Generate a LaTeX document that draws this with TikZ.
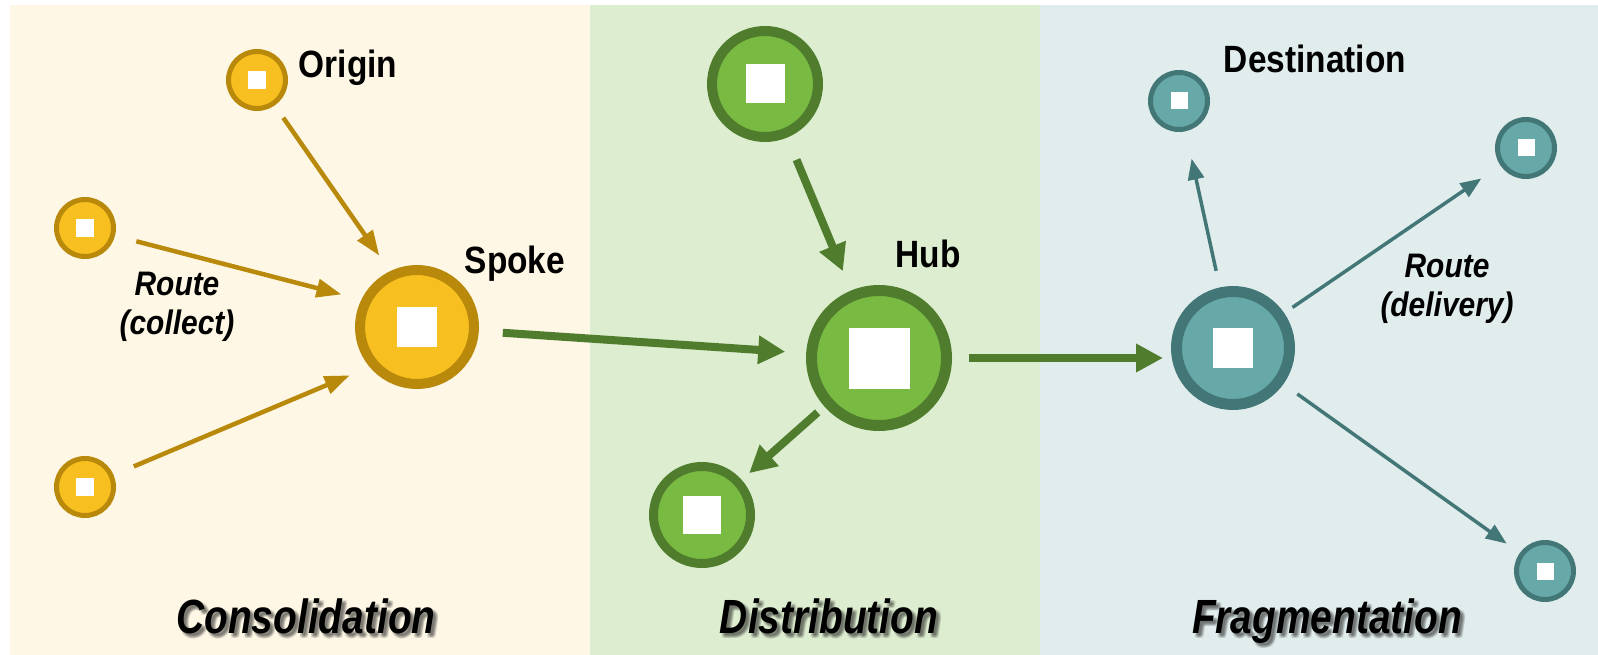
\documentclass[tikz,border=0pt]{standalone}
\usepackage{fontspec}
\setmainfont{Liberation Sans}
\newfontfamily\labelfont[FakeStretch=0.88]{Liberation Sans}
\newfontfamily\titlefont[FakeStretch=0.81]{Liberation Sans}
\usetikzlibrary{arrows.meta}

\definecolor{creambg}{HTML}{FEF7E5}
\definecolor{greenbg}{HTML}{DDEDCF}
\definecolor{tealbg}{HTML}{E1EDED}
\definecolor{goldfill}{HTML}{F7BF1F}
\definecolor{golddark}{HTML}{B8890A}
\definecolor{greenfill}{HTML}{79BA43}
\definecolor{greendark}{HTML}{507D2D}
\definecolor{tealfill}{HTML}{67A8A8}
\definecolor{tealdark}{HTML}{437777}

\newcommand{\whitesq}[1]{\textcolor{white}{\rule{#1pt}{#1pt}}}

\tikzset{
  site/.style={circle,inner sep=0pt},
  gold site/.style={site,fill=goldfill,draw=golddark},
  green site/.style={site,fill=greenfill,draw=greendark},
  teal site/.style={site,fill=tealfill,draw=tealdark},
  gold arrow/.style={draw=golddark,line width=4.5pt,-{Triangle[length=25pt,width=18pt]}},
  green arrow/.style={draw=greendark,line width=8pt,-{Triangle[length=27pt,width=27pt]}},
  teal arrow/.style={draw=tealdark,line width=3.5pt,-{Triangle[length=21pt,width=16pt]}},
  label text/.style={font=\labelfont\bfseries\fontsize{38}{40}\selectfont,inner sep=0pt,anchor=base},
  route text/.style={font=\labelfont\bfseries\itshape\fontsize{34}{39}\selectfont,inner sep=0pt,align=center},
  title text/.style={font=\titlefont\bfseries\itshape\fontsize{48}{50}\selectfont,inner sep=0pt,anchor=base}
}

\begin{document}
\begin{tikzpicture}[x=1pt,y=-1pt]
   \useasboundingbox (0,0) rectangle (1598,655);
   \fill[white] (0,0) rectangle (1598,655);
   \fill[creambg] (10,5) rectangle (590,655);
   \fill[greenbg] (590,5) rectangle (1040,655);
   \fill[tealbg] (1040,5) rectangle (1598,655);

   % consolidation
   \node[gold site,line width=5pt,minimum size=57pt] (o1) at (257,80) {\whitesq{18}};
   \node[gold site,line width=5pt,minimum size=57pt] (o2) at (85,228) {\whitesq{18}};
   \node[gold site,line width=5pt,minimum size=57pt] (o3) at (85,487) {\whitesq{18}};
   \node[gold site,line width=10pt,minimum size=114pt] (spoke) at (417,327) {\whitesq{40}};

   % distribution
   \node[green site,line width=10pt,minimum size=106pt] (g1) at (765,84) {\whitesq{39}};
   \node[green site,line width=11pt,minimum size=135pt] (hub) at (879,358) {\whitesq{61}};
   \node[green site,line width=9pt,minimum size=97pt] (g2) at (702,515) {\whitesq{38}};

   % fragmentation
   \node[teal site,line width=11pt,minimum size=113pt] (frag) at (1233,348) {\whitesq{40}};
   \node[teal site,line width=5pt,minimum size=57pt] (d1) at (1179,101) {\whitesq{17}};
   \node[teal site,line width=5pt,minimum size=57pt] (d2) at (1526,148) {\whitesq{17}};
   \node[teal site,line width=5pt,minimum size=57pt] (d3) at (1545,571) {\whitesq{17}};

   \path (o1) edge[gold arrow,shorten <=15pt,shorten >=87pt] ([xshift=12pt]spoke.center);
   \path (o2) edge[gold arrow,shorten <=22pt,shorten >=78pt] ([yshift=13pt]spoke.center);
   \path (o3) edge[gold arrow,shorten <=22pt,shorten >=73pt] ([yshift=-20pt]spoke.center);
   \path (spoke) edge[green arrow,shorten <=24pt,shorten >=21pt] (hub);
   \path (g1) edge[green arrow,shorten <=24pt,shorten >=21pt] (hub);
   \path (hub) edge[green arrow,shorten <=9pt,shorten >=10pt] (g2);
   \path (hub) edge[green arrow,shorten <=17pt,shorten >=70pt] (hub -| frag);
   \path (frag) edge[teal arrow,shorten <=17pt,shorten >=28pt] (d1);
   \path (frag) edge[teal arrow,shorten <=10pt,shorten >=23pt] (d2);
   \path (frag) edge[teal arrow,shorten <=17pt,shorten >=16pt] (d3);

   \node[label text] (lorigin) at (348,78) {Origin};
   \node[label text] (lspoke) at (515,273) {Spoke};
   \node[label text] (lhub) at (928,267) {Hub};
   \node[label text] (ldest) at (1315,73) {Destination};
   \node[route text] (lcollect) at (177,307) {Route\\(collect)};
   \node[route text] (ldelivery) at (1447,289) {Route\\(delivery)};

   \foreach \name/\x/\txt in {tcons/306/Consolidation,tdist/829/Distribution,tfrag/1327/Fragmentation} {
      \foreach \dx in {2,3,4,5}
         \foreach \dy in {2,3,4,5}
            \node[title text,text=black!80,text opacity=.06] (\name-sh\dx\dy) at (\x+\dx,633+\dy) {\txt};
      \node[title text] (\name) at (\x,633) {\txt};
   }
\end{tikzpicture}
\end{document}
